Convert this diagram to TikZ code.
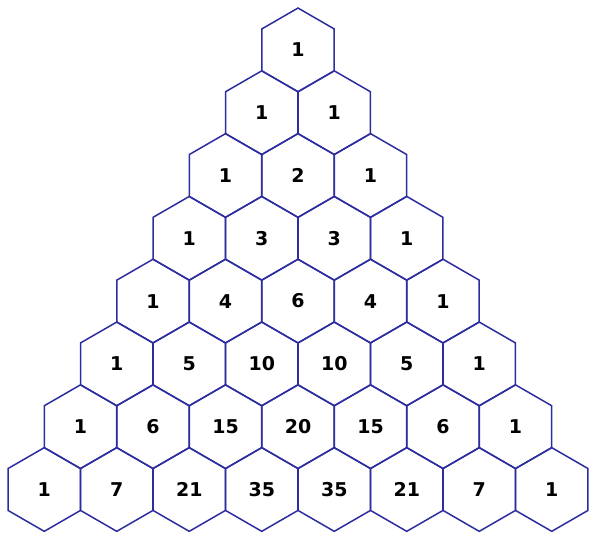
\documentclass[tikz,border=0pt]{standalone}
\usepackage{fontspec}
\setmainfont{DejaVu Sans}
\usetikzlibrary{shapes.geometric}
\definecolor{hexblue}{RGB}{45,45,160}
\tikzset{
  hexa/.style={draw=hexblue, line width=1.5pt, regular polygon, regular polygon sides=6,
    shape border rotate=30, minimum size=83.7pt, inner sep=0pt, outer sep=0pt,
    font=\fontsize{19}{19}\selectfont\bfseries, text=black}
}
\begin{document}
\begin{tikzpicture}[x=1pt,y=1pt]
\fill[white] (0,0) rectangle (590,534);
\useasboundingbox (0,0) rectangle (590,534);
\foreach \row/\vals in {0/{1},1/{1,1},2/{1,2,1},3/{1,3,3,1},4/{1,4,6,4,1},5/{1,5,10,10,5,1},6/{1,6,15,20,15,6,1},7/{1,7,21,35,35,21,7,1}}{
  \foreach \v [count=\k] in \vals {
    \pgfmathsetmacro{\xx}{298+(\k-1-\row/2)*72.5}
    \pgfmathsetmacro{\yy}{534-(49.9+\row*62.8)}
    \node[hexa] (h\row-\k) at (\xx,\yy) {\v};
  }
}
\end{tikzpicture}
\end{document}
